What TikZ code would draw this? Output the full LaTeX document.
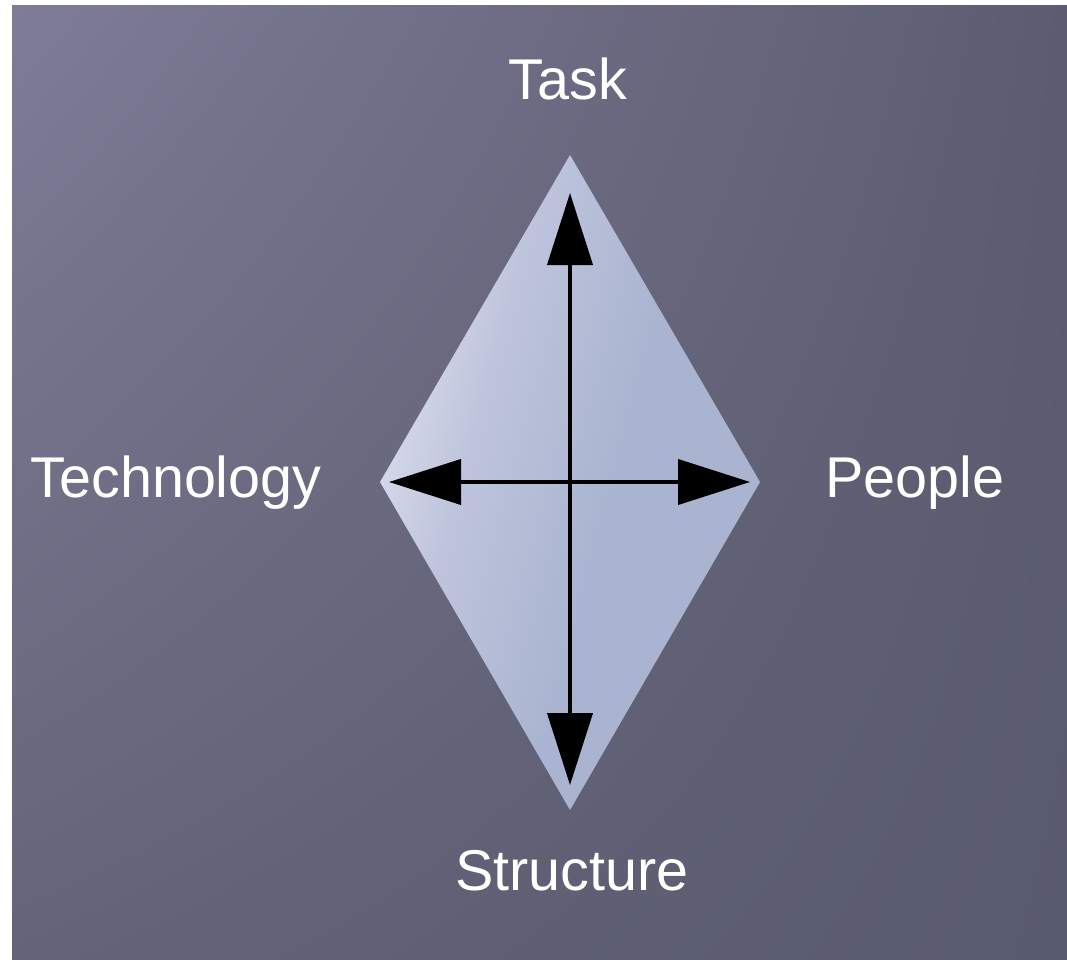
\documentclass[tikz,border=0pt]{standalone}
\usepackage{fontspec}
\setmainfont{Liberation Sans}
\usepackage{tikz}
\usetikzlibrary{arrows.meta, shadings}

\definecolor{bgA}{HTML}{7E7C97}
\definecolor{bgB}{HTML}{5C5C71}
\definecolor{bgC}{HTML}{646479}
\definecolor{bgD}{HTML}{585A6D}
\definecolor{kiteA}{HTML}{DDDFEC}
\definecolor{kiteM}{HTML}{BEC4DC}
\definecolor{kiteB}{HTML}{AAB4D0}
\pgfdeclarehorizontalshading{kite}{100bp}{color(0bp)=(kiteA); color(25bp)=(kiteA); color(38bp)=(kiteM); color(55bp)=(kiteB); color(100bp)=(kiteB)}

\begin{document}
\begin{tikzpicture}[x=1pt, y=-1pt,
		corner/.style={text=white, inner sep=0pt, anchor=base, font=\fontsize{57.5}{62}\selectfont},
		twoway/.style={line width=4pt, {Triangle[length=72pt, width=45pt]}-{Triangle[length=72pt, width=45pt]}}]
	\useasboundingbox (0,0) rectangle (1067,960);
	\shade[upper left=bgA, upper right=bgB, lower left=bgC, lower right=bgD] (12,6) rectangle (1067,960);
	%
	\coordinate (top) at (570,155);
	\coordinate (bottom) at (570,810);
	\coordinate (left) at (380,482);
	\coordinate (right) at (760,482);
	\shade[shading=kite, shading angle=-15] (top) -- (right) -- (bottom) -- (left) -- cycle;
	%
	\coordinate (n) at (570,193);
	\coordinate (s) at (570,785);
	\coordinate (w) at (389,482);
	\coordinate (e) at (750,482);
	\draw[twoway] (s) -- (n);
	\draw[twoway] (w) -- (e);
	%
	\node[corner] (task) at (568,100) {Task};
	\node[corner] (technology) at (176,497) {Technology};
	\node[corner] (people) at (915,497) {People};
	\node[corner] (structure) at (572,890) {Structure};
\end{tikzpicture}
\end{document}
